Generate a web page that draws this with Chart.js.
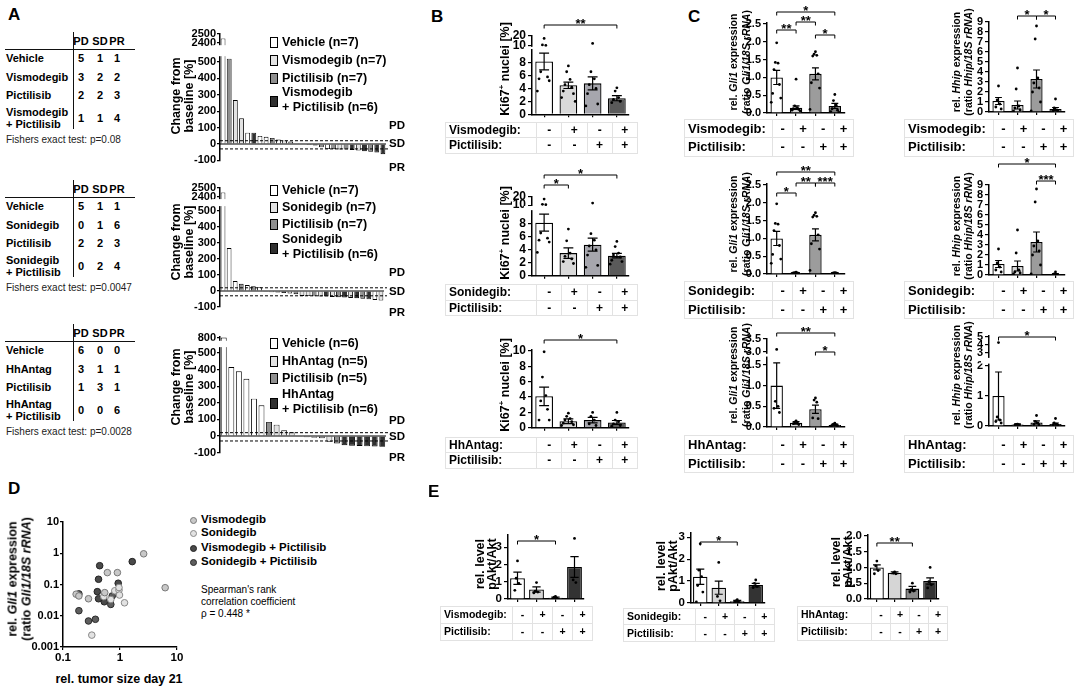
<!DOCTYPE html>
<html>
<head>
<meta charset="utf-8">
<script src="https://cdn.jsdelivr.net/npm/chart.js@4.4.0/dist/chart.umd.min.js"></script>
<style>
html, body { margin: 0; padding: 0; background: #fff; }
#fig { position: relative; width: 1091px; height: 688px; overflow: hidden; font-family: "Liberation Sans", Arial, sans-serif; color: #000; }
#fig canvas { position: absolute; }
.t { position: absolute; white-space: nowrap; line-height: 1; }
.t sup { font-size: 0.65em; line-height: 0; }
.ln { position: absolute; background: #111; }
.sw { position: absolute; border: 1px solid #000; box-sizing: border-box; }
table.pm { position: absolute; border-collapse: collapse; font-weight: bold; table-layout: fixed; }
table.pm td { border: 1px solid #e2e2e2; padding: 0; text-align: center; line-height: 1; }
table.pm td.lab { text-align: left; padding-left: 3px; }
</style>
</head>
<body>
<div id="fig"></div>
<script>
// -----------------------------
// Data
// -----------------------------
// A: response tables
const respRows1 = ["Vehicle", "Vismodegib", "Pictilisib", "Vismodegib<br>+ Pictilisib"];
const respCounts1 = [[5, 1, 1], [3, 2, 2], [2, 2, 3], [1, 1, 4]];
const respRows2 = ["Vehicle", "Sonidegib", "Pictilisib", "Sonidegib<br>+ Pictilisib"];
const respCounts2 = [[5, 1, 1], [0, 1, 6], [2, 2, 3], [0, 2, 4]];
const respRows3 = ["Vehicle", "HhAntag", "Pictilisib", "HhAntag<br>+ Pictilisib"];
const respCounts3 = [[6, 0, 0], [3, 1, 1], [1, 3, 1], [0, 0, 6]];
const fisherP = ["p=0.08", "p=0.0047", "p=0.0028"];

// A: waterfall plots (change from baseline [%], group index per bar)
const wfLegend1 = ["Vehicle (n=7)", "Vismodegib (n=7)", "Pictilisib (n=7)", "Vismodegib<br>+ Pictilisib (n=6)"];
const wfLegend2 = ["Vehicle (n=7)", "Sonidegib (n=7)", "Pictilisib (n=7)", "Sonidegib<br>+ Pictilisib (n=6)"];
const wfLegend3 = ["Vehicle (n=6)", "HhAntag (n=5)", "Pictilisib (n=5)", "HhAntag<br>+ Pictilisib (n=6)"];
const wf1Change = [2450, 520, 268, 157, 69, 69, 49, 44, 37, 27, 22, 15, 4, -3, -6, -9, -20, -31, -32, -33, -34, -36, -40, -44, -48, -52, -62];
const wf1Group  = [0, 2, 1, 1, 0, 3, 0, 0, 2, 0, 1, 1, 0, 2, 1, 3, 2, 0, 2, 1, 2, 3, 1, 3, 2, 3, 3];
const wf2Change = [2450, 268, 62, 45, 37, 30, 24, -4, -8, -10, -12, -15, -20, -31, -32, -33, -34, -35, -37, -39, -41, -43, -45, -48, -52, -56, -60];
const wf2Group  = [0, 0, 0, 2, 0, 2, 0, 3, 1, 2, 3, 0, 2, 1, 1, 2, 1, 3, 1, 2, 3, 1, 3, 2, 3, 0, 1];
const wf3Change = [805, 415, 390, 345, 225, 185, 85, 68, 35, 22, -5, -8, -11, -14, -35, -45, -55, -58, -60, -62, -63, -65];
const wf3Group  = [0, 0, 0, 0, 0, 0, 2, 1, 1, 1, 2, 2, 1, 2, 1, 2, 3, 3, 3, 3, 3, 3];
const wfTicks12 = [-100, 0, 100, 200, 300, 400, 500, 2400, 2500];
const wfTicks3 = [-100, 0, 100, 200, 300, 400, 500, 800];

// B: Ki67+ nuclei [%]
const ki67TicksBroken = [0, 2, 4, 6, 8, 10, 20];
const ki67Ticks = [0, 2, 4, 6, 8, 10];
const ki67VisMean = [8.2, 4.5, 4.8, 2.5];
const ki67VisSem = [1.3, 0.5, 1.0, 0.4];
const ki67VisPts = [[17.5, 11, 10.5, 6.6, 5.8, 5.5, 5.2, 3.6], [7.5, 6.6, 5.4, 4.6, 4.2, 3.6, 3.2, 2.6, 2.0], [12.5, 6.6, 5.5, 4.6, 4.0, 3.2, 1.6, 1.3], [4.1, 3.6, 2.6, 2.3, 2.0, 1.8]];
const ki67SonMean = [8.2, 3.5, 4.8, 3.1];
const ki67SonSem = [1.3, 0.8, 1.0, 0.35];
const ki67SonPts = [[17.5, 11, 10.5, 6.6, 5.8, 5.5, 5.2, 3.6], [7.2, 5.4, 3.5, 3.0, 2.6, 2.2, 1.9], [12.5, 6.5, 5.5, 4.6, 4.0, 3.2, 1.6, 1.3], [5.3, 4.5, 3.5, 3.2, 2.9, 2.4, 2.2, 1.8]];
const ki67HhMean = [4.1, 0.85, 1.0, 0.7];
const ki67HhSem = [1.2, 0.3, 0.35, 0.25];
const ki67HhPts = [[9.9, 6.6, 4.2, 3.5, 2.4, 1.0, 1.0], [1.9, 1.5, 1.2, 1.0, 0.8, 0.6, 0.4, 0.3], [2.0, 1.5, 1.0, 0.5, 0.3], [2.0, 1.0, 0.8, 0.5, 0.3, 0.2]];

// C: Gli1 and Hhip expression
const gliTicks = [0, 0.5, 1, 1.5, 2, 2.5];
const gliTicksBroken = [0, 0.5, 1, 1.5, 3, 3.5];
const hhipTicks = [0, 1, 2, 3, 4, 5, 6, 7, 8, 9];
const hhipTicksBroken = [0, 1, 2, 3, 4, 5];
const gliVisMean = [1.0, 0.15, 1.1, 0.2];
const gliVisSem = [0.2, 0.05, 0.17, 0.07];
const gliVisPts = [[1.97, 1.42, 1.4, 1.22, 0.8, 0.55, 0.42, 0.3], [0.95, 0.2, 0.15, 0.12, 0.1, 0.08, 0.06], [1.72, 1.65, 1.62, 1.6, 1.1, 0.85, 0.7, 0.1], [0.52, 0.35, 0.22, 0.12, 0.08, 0.04, 0.02]];
const hhipVisMean = [1.1, 0.7, 3.3, 0.3];
const hhipVisSem = [0.35, 0.4, 0.9, 0.15];
const hhipVisPts = [[2.6, 1.2, 0.8, 0.5, 0.3], [4.4, 2.3, 0.6, 0.4, 0.2, 0.1], [8.6, 7.3, 3.4, 2.9, 2.4, 2.0, 1.0, 0.1], [1.3, 0.4, 0.2, 0.1, 0.05]];
const gliSonMean = [1.0, 0.03, 1.1, 0.03];
const gliSonSem = [0.2, 0.01, 0.17, 0.01];
const gliSonPts = [[1.97, 1.42, 1.4, 1.22, 0.8, 0.55, 0.42, 0.3], [0.05, 0.04, 0.03, 0.03, 0.02, 0.02], [1.72, 1.65, 1.62, 1.6, 1.1, 0.85, 0.7, 0.1], [0.04, 0.03, 0.03, 0.02, 0.02]];
const hhipSonMean = [1.1, 0.9, 3.3, 0.1];
const hhipSonSem = [0.35, 0.5, 1.0, 0.04];
const hhipSonPts = [[2.6, 1.2, 0.8, 0.5, 0.3], [4.5, 2.2, 0.5, 0.3, 0.2, 0.1], [8.6, 7.3, 3.4, 2.9, 2.4, 2.0, 1.0, 0.1], [0.3, 0.1, 0.05, 0.02]];
const gliHhMean = [1.0, 0.1, 0.43, 0.05];
const gliHhSem = [0.55, 0.03, 0.1, 0.02];
const gliHhPts = [[3.1, 0.62, 0.5, 0.45, 0.35], [0.15, 0.12, 0.1, 0.08, 0.06], [0.7, 0.65, 0.6, 0.22, 0.2], [0.09, 0.07, 0.05, 0.04, 0.03, 0.02]];
const hhipHhMean = [1.0, 0.05, 0.12, 0.07];
const hhipHhSem = [0.8, 0.02, 0.05, 0.03];
const hhipHhPts = [[4.3, 0.3, 0.2, 0.15, 0.1], [0.06, 0.05, 0.04, 0.03], [0.35, 0.15, 0.1, 0.05, 0.03], [0.25, 0.1, 0.06, 0.04, 0.03]];

// D: rel. tumor size day 21 (x) vs rel. Gli1 expression (y)
const dVisX = [2.6, 6.2, 0.6, 0.9, 0.17, 0.19, 0.28, 0.54];
const dVisY = [0.96, 0.079, 0.24, 0.24, 0.049, 0.043, 0.035, 0.055];
const dSonX = [0.52, 0.81, 0.96, 0.98, 1.2, 0.69, 0.32, 0.96];
const dSonY = [0.041, 0.063, 0.066, 0.046, 0.026, 0.033, 0.0024, 0.08];
const dVisPicX = [1.64, 0.44, 0.42, 0.93, 0.40, 0.42, 0.53];
const dVisPicY = [0.54, 0.40, 0.147, 0.11, 0.059, 0.035, 0.028];
const dSonPicX = [0.69, 0.73, 0.19, 0.28, 0.37, 0.19];
const dSonPicY = [0.023, 0.043, 0.0145, 0.0068, 0.0077, 0.05];
const dLegend = ["Vismodegib", "Sonidegib", "Vismodegib + Pictilisib", "Sonidegib + Pictilisib"];
const dTicksX = [0.1, 1, 10];
const dTicksY = [0.001, 0.01, 0.1, 1, 10];

// E: rel. level pAkt/Akt
const aktTicks = [0, 1, 2, 3];
const aktTicksHh = [0, 0.5, 1, 1.5, 2];
const aktVisMean = [1.2, 0.55, 0.07, 1.85];
const aktVisSem = [0.35, 0.15, 0.04, 0.6];
const aktVisPts = [[2.2, 1.2, 0.9, 0.5], [0.95, 0.45, 0.4, 0.35], [0.15, 0.1, 0.05, 0.02], [3.5, 1.1, 0.95]];
const aktSonMean = [1.2, 0.7, 0.08, 0.82];
const aktSonSem = [0.35, 0.3, 0.04, 0.08];
const aktSonPts = [[2.7, 1.5, 1.2, 0.8, 0.5, 0.05], [1.85, 0.3, 0.1], [0.15, 0.1, 0.05, 0.03], [1.05, 0.9, 0.75, 0.7]];
const aktHhMean = [1.0, 0.83, 0.33, 0.57];
const aktHhSem = [0.08, 0.03, 0.07, 0.1];
const aktHhPts = [[1.2, 1.05, 0.9, 0.8], [0.86, 0.82, 0.8], [0.5, 0.3, 0.25, 0.22], [1.0, 0.55, 0.45, 0.35]];

const drugSigns = ["-", "+", "-", "+"];
const pictSigns = ["-", "-", "+", "+"];

// -----------------------------
// Styles
// -----------------------------
const FONT = '"Liberation Sans", Arial, sans-serif';
const wfColors = ["#ffffff", "#e3e3e3", "#8f8f8f", "#303030"];
const colorsB = ["#ffffff", "#d9d9d9", "#a6a6ad", "#5a5a5a"];
const colorsC = ["#ffffff", "#d9d9d9", "#9c9c9c", "#7c7c7c"];
const colorsE = ["#ffffff", "#d6d6d6", "#8a8a8a", "#333333"];

Chart.defaults.font.family = FONT;
Chart.defaults.color = "#000";
Chart.defaults.animation = false;
Chart.defaults.plugins.legend.display = false;
Chart.defaults.plugins.tooltip.enabled = false;

const fig = document.getElementById("fig");

// -----------------------------
// Helpers
// -----------------------------
function txt(html, x, y, o = {}) {
    const d = document.createElement("div");
    d.className = "t";
    d.innerHTML = html;
    d.style.fontSize = (o.size || 12) + "px";
    d.style.fontWeight = o.normal ? "normal" : "bold";
    if (o.lh) d.style.lineHeight = o.lh + "px";
    if (o.color) d.style.color = o.color;
    const a = o.align || "l";
    if (a === "c") d.style.textAlign = "center";
    d.style.left = x + "px";
    d.style.top = y + "px";
    const tx = a === "c" ? "-50%" : a === "r" ? "-100%" : "0";
    d.style.transform = `translate(${tx},-50%)` + (o.rot ? " rotate(-90deg)" : "");
    fig.appendChild(d);
    return d;
}

function line(x, y, w, h) {
    const d = document.createElement("div");
    d.className = "ln";
    Object.assign(d.style, { left: x + "px", top: y + "px", width: w + "px", height: h + "px" });
    fig.appendChild(d);
}

function swatch(x, yc, col, round) {
    const d = document.createElement("div");
    d.className = "sw";
    const w = round ? 7 : 8, h = round ? 7 : 11;
    Object.assign(d.style, { left: x + "px", top: (yc - h / 2) + "px", width: w + "px", height: h + "px", background: col });
    if (round) { d.style.borderRadius = "50%"; d.style.borderColor = round; }
    fig.appendChild(d);
}

function signTable(x, y, labelW, colW, rowH, size, rows) {
    const t = document.createElement("table");
    t.className = "pm";
    t.style.left = x + "px";
    t.style.top = y + "px";
    t.style.fontSize = size + "px";
    t.style.width = (labelW + 4 * colW) + "px";
    rows.forEach(([lab, signs]) => {
        const tr = t.insertRow();
        const c = tr.insertCell();
        c.className = "lab";
        c.textContent = lab;
        c.style.width = labelW + "px";
        c.style.height = (rowH - 1) + "px";
        signs.forEach(s => {
            const td = tr.insertCell();
            td.textContent = s;
            td.style.width = colW + "px";
        });
    });
    fig.appendChild(t);
}

function makeCanvas(left, top, w, h) {
    const cv = document.createElement("canvas");
    cv.width = w; cv.height = h;
    cv.style.left = left + "px"; cv.style.top = top + "px";
    cv.style.width = w + "px"; cv.style.height = h + "px";
    fig.appendChild(cv);
    return cv;
}

// broken axis: values above brk.high are compressed into a short upper segment
function mapper(brk) {
    if (!brk) return v => v;
    return v => v <= brk.low ? v : (v < brk.high ? brk.low : brk.base + (v - brk.high) * brk.k);
}

function breakBand(brk) {
    return {
        id: "breakBand",
        afterDraw(ch) {
            if (!brk) return;
            const y = ch.scales.y, a = ch.chartArea, ctx = ch.ctx;
            const yl = y.getPixelForValue(brk.low), yu = y.getPixelForValue(brk.gapTop ?? brk.base);
            if (yl - yu < 2) return;
            ctx.save();
            ctx.fillStyle = "#fff";
            ctx.fillRect(a.left - 8, yu + 0.9, a.right - a.left + 8, yl - yu - 1.8);
            ctx.restore();
        }
    };
}

const jit = k => (k % 2 ? -1 : 1) * Math.ceil(k / 2) * 0.07;

// -----------------------------
// Bar + dots + SEM panel
// -----------------------------
function barPanel(c) {
    const toV = mapper(c.brk);
    const axisW = 30, botH = 8;
    const h = (c.vmax - c.vmin) * c.k, top = c.y0 - h;
    const bTop = c.brackets && c.brackets.length ? Math.min(...c.brackets.map(b => b.y)) - 15 : top - 8;
    const cTop = Math.floor(Math.max(0, Math.min(top - 8, bTop)));
    const cLeft = Math.floor(c.x - axisW);
    const W = Math.ceil(c.x + c.w + 5) - cLeft, H = Math.ceil(c.y0 + botH + 1) - cTop;
    const pad = { left: c.x - axisW - cLeft, top: top - cTop, right: W - (c.x + c.w - cLeft), bottom: H - (c.y0 - cTop) - botH };
    const cv = makeCanvas(cLeft, cTop, W, H);
    const labels = c.ticks.map(v => c.dec ? v.toFixed(c.dec) : String(v));

    const pts = [];
    c.pts.forEach((arr, g) => arr.forEach((v, k) => pts.push({ x: g + jit(k), y: toV(v) })));

    new Chart(cv, {
        type: "bar",
        data: {
            datasets: [
                { type: "scatter", data: pts, pointRadius: 1.4, pointBackgroundColor: "#000", pointBorderWidth: 0, order: 0 },
                { type: "bar", data: c.means.map((m, i) => ({ x: i, y: toV(m) })), backgroundColor: c.colors, borderColor: "#000", borderWidth: 1.3, barPercentage: c.barPct, categoryPercentage: 1, order: 1 }
            ]
        },
        options: {
            responsive: false,
            animation: false,
            layout: { padding: pad },
            scales: {
                x: {
                    type: "linear", min: -0.5, max: 3.5, offset: false,
                    afterBuildTicks: s => { s.ticks = [0, 1, 2, 3].map(v => ({ value: v })); },
                    afterFit: s => { s.height = botH; },
                    ticks: { display: false },
                    grid: { display: true, offset: false, drawOnChartArea: false, drawTicks: true, tickLength: 3, color: "#000", lineWidth: 1.2 },
                    border: { display: true, color: "#000", width: 1.5 }
                },
                y: {
                    type: "linear", min: c.vmin, max: c.vmax,
                    afterBuildTicks: s => { s.ticks = c.ticks.map(v => ({ value: toV(v) })); },
                    afterFit: s => { s.width = axisW; },
                    ticks: { autoSkip: false, padding: 2, color: "#000", font: { size: c.tickSize || 11, weight: "bold" }, callback: (v, i) => labels[i] },
                    grid: { drawOnChartArea: false, tickLength: 4, color: "#000", lineWidth: 1.2 },
                    border: { color: "#000", width: 1.5 }
                }
            }
        },
        plugins: [
            {
                id: "sem",
                afterDatasetsDraw(ch) {
                    const { ctx } = ch, x = ch.scales.x, y = ch.scales.y;
                    const cap = (x.getPixelForValue(1) - x.getPixelForValue(0)) * c.barPct * 0.28;
                    ctx.save();
                    ctx.strokeStyle = "#000";
                    ctx.lineWidth = 1.2;
                    c.means.forEach((m, i) => {
                        const px = x.getPixelForValue(i);
                        const yh = y.getPixelForValue(toV(m + c.sem[i]));
                        const yl = y.getPixelForValue(toV(Math.max(m - c.sem[i], 0)));
                        ctx.beginPath();
                        ctx.moveTo(px, yl); ctx.lineTo(px, yh);
                        ctx.moveTo(px - cap, yh); ctx.lineTo(px + cap, yh);
                        ctx.moveTo(px - cap, yl); ctx.lineTo(px + cap, yl);
                        ctx.stroke();
                    });
                    ctx.restore();
                }
            },
            breakBand(c.brk),
            {
                id: "brackets",
                afterDraw(ch) {
                    if (!c.brackets) return;
                    const { ctx } = ch, x = ch.scales.x;
                    ctx.save();
                    ctx.strokeStyle = "#000";
                    ctx.lineWidth = 1;
                    ctx.fillStyle = "#000";
                    ctx.font = "bold 13px " + FONT;
                    ctx.textAlign = "center";
                    ctx.textBaseline = "alphabetic";
                    c.brackets.forEach(b => {
                        const yy = b.y - cTop, xa = x.getPixelForValue(b.a), xb = x.getPixelForValue(b.b);
                        ctx.beginPath();
                        ctx.moveTo(xa, yy + 3.5); ctx.lineTo(xa, yy); ctx.lineTo(xb, yy); ctx.lineTo(xb, yy + 3.5);
                        ctx.stroke();
                        ctx.fillText(b.t, (xa + xb) / 2, yy + 3);
                    });
                    ctx.restore();
                }
            }
        ]
    });
}

// -----------------------------
// Waterfall panel
// -----------------------------
function waterfall(c) {
    const toV = mapper(c.brk);
    const axisW = 32;
    const h = (c.vmax - c.vmin) * c.k, top = c.y0 - h;
    const cTop = Math.floor(top - 8), cLeft = Math.floor(c.x - axisW);
    const W = Math.ceil(c.x + c.w + 4) - cLeft, H = Math.ceil(c.y0 + 9) - cTop;
    const pad = { left: c.x - axisW - cLeft, top: top - cTop, right: W - (c.x + c.w - cLeft), bottom: H - (c.y0 - cTop) };
    const cv = makeCanvas(cLeft, cTop, W, H);
    const n = c.values.length;

    new Chart(cv, {
        type: "bar",
        data: {
            datasets: [{
                data: c.values.map((v, i) => ({ x: i, y: toV(v) })),
                backgroundColor: c.groups.map(g => wfColors[g]),
                borderColor: "#000", borderWidth: 0.9,
                barPercentage: 0.78, categoryPercentage: 1
            }]
        },
        options: {
            responsive: false,
            animation: false,
            layout: { padding: pad },
            scales: {
                x: { type: "linear", display: false, min: -0.5, max: n - 0.5, offset: false },
                y: {
                    type: "linear", min: c.vmin, max: c.vmax,
                    afterBuildTicks: s => { s.ticks = c.ticks.map(v => ({ value: toV(v) })); },
                    afterFit: s => { s.width = axisW; },
                    ticks: { autoSkip: false, padding: 1, color: "#000", font: { size: 11, weight: "bold" }, callback: (v, i) => String(c.ticks[i]) },
                    grid: { drawOnChartArea: false, tickLength: 3, color: "#000", lineWidth: 1.2 },
                    border: { color: "#000", width: 1.5 }
                }
            }
        },
        plugins: [
            {
                id: "refLines",
                afterDatasetsDraw(ch) {
                    const { ctx } = ch, y = ch.scales.y, a = ch.chartArea;
                    ctx.save();
                    ctx.strokeStyle = "#000";
                    ctx.lineWidth = 1.2;
                    ctx.beginPath();
                    ctx.moveTo(a.left, y.getPixelForValue(0)); ctx.lineTo(a.right, y.getPixelForValue(0));
                    ctx.stroke();
                    ctx.lineWidth = 1;
                    ctx.setLineDash([3, 2]);
                    [20, -30].forEach(v => {
                        ctx.beginPath();
                        ctx.moveTo(a.left, y.getPixelForValue(v)); ctx.lineTo(a.right + 3, y.getPixelForValue(v));
                        ctx.stroke();
                    });
                    ctx.restore();
                }
            },
            breakBand(c.brk)
        ]
    });
}

// -----------------------------
// Scatter panel D (log-log)
// -----------------------------
function scatterD() {
    const axisW = 35, x0 = 63, w = 114, top = 522, h = 125, botH = 18;
    const cLeft = x0 - axisW, cTop = top - 8;
    const W = axisW + w + 10, H = 8 + h + botH + 2;
    const cv = makeCanvas(cLeft, cTop, W, H);
    const xy = (xs, ys) => xs.map((v, i) => ({ x: v, y: ys[i] }));
    const set = (xs, ys, fill, edge) => ({ data: xy(xs, ys), pointRadius: 3.3, pointBackgroundColor: fill, pointBorderColor: edge, pointBorderWidth: 1 });
    const yLabels = ["0.001", "0.01", "0.1", "1", "10"];
    const xLabels = ["0.1", "1", "10"];
    new Chart(cv, {
        type: "scatter",
        data: {
            datasets: [
                set(dVisX, dVisY, "#c8c8c8", "#777"),
                set(dSonX, dSonY, "#e2e2e2", "#888"),
                set(dVisPicX, dVisPicY, "#4a4a4a", "#222"),
                set(dSonPicX, dSonPicY, "#5e5e5e", "#2a2a2a")
            ]
        },
        options: {
            responsive: false,
            animation: false,
            layout: { padding: { left: 0, top: 8, right: 10, bottom: 2 } },
            scales: {
                x: {
                    type: "logarithmic", min: 0.1, max: 10,
                    afterBuildTicks: s => { s.ticks = dTicksX.map(v => ({ value: v })); },
                    afterFit: s => { s.height = botH; },
                    ticks: { autoSkip: false, padding: 1, maxRotation: 0, color: "#000", font: { size: 11.5, weight: "bold" }, callback: (v, i) => xLabels[i] },
                    grid: { drawOnChartArea: false, tickLength: 3, color: "#000", lineWidth: 1.2 },
                    border: { color: "#000", width: 1.5 }
                },
                y: {
                    type: "logarithmic", min: 0.001, max: 10,
                    afterBuildTicks: s => { s.ticks = dTicksY.map(v => ({ value: v })); },
                    afterFit: s => { s.width = axisW; },
                    ticks: { autoSkip: false, padding: 1, color: "#000", font: { size: 11, weight: "bold" }, callback: (v, i) => yLabels[i] },
                    grid: { drawOnChartArea: false, tickLength: 3, color: "#000", lineWidth: 1.2 },
                    border: { color: "#000", width: 1.5 }
                }
            }
        }
    });
}

// -----------------------------
// Panel A
// -----------------------------
function respTable(top, names, counts, p) {
    const cols = [81, 100, 117];
    ["PD", "SD", "PR"].forEach((s, i) => txt(s, cols[i], top, { align: "c", size: 11 }));
    line(5, top + 8, 130, 1);
    line(73, top - 9, 1, 97);
    const rowY = [top + 17, top + 36, top + 54, top + 77];
    names.forEach((nm, r) => {
        txt(nm, 6, rowY[r], { size: 11, lh: 12 });
        counts[r].forEach((v, i) => txt(String(v), cols[i], rowY[r], { align: "c", size: 11 }));
    });
    txt("Fishers exact test: " + p, 6, top + 99, { normal: true, size: 10, color: "#222" });
}

function wfLegend(names, ys) {
    for (let i = 0; i < 3; i++) {
        swatch(270, ys[i], wfColors[i]);
        txt(names[i], 282, ys[i], { size: 12.5 });
    }
    swatch(270, ys[3] + 1, wfColors[3]);
    txt(names[3], 282, ys[3], { size: 12.5, lh: 15 });
}

txt("A", 8, 14, { size: 17 });
respTable(41, respRows1, respCounts1, fisherP[0]);
respTable(189, respRows2, respCounts2, fisherP[1]);
respTable(333, respRows3, respCounts3, fisherP[2]);

waterfall({ x: 220, w: 166, y0: 160.4, k: 0.164, vmin: -100, vmax: 674, brk: { low: 530, high: 2400, base: 616, k: 0.55, gapTop: 608 }, ticks: wfTicks12, values: wf1Change, groups: wf1Group });
waterfall({ x: 220, w: 164, y0: 307, k: 0.16, vmin: -100, vmax: 647, brk: { low: 525, high: 2400, base: 588, k: 0.5625, gapTop: 580 }, ticks: wfTicks12, values: wf2Change, groups: wf2Group });
waterfall({ x: 220, w: 166, y0: 452.6, k: 0.166, vmin: -100, vmax: 596, brk: { low: 530, high: 800, base: 590, k: 0.55, gapTop: 579 }, ticks: wfTicks3, values: wf3Change, groups: wf3Group });

[96, 242, 387].forEach(y => txt("Change from<br>baseline [%]", 182.5, y, { align: "c", rot: true, size: 12.5, lh: 13 }));
wfLegend(wfLegend1, [42, 60, 78, 100]);
wfLegend(wfLegend2, [190, 207, 224, 247]);
wfLegend(wfLegend3, [343, 361, 378, 402]);
[[126, 144, 168], [273, 292, 313], [421, 437, 458]].forEach(ys => {
    ["PD", "SD", "PR"].forEach((s, i) => txt(s, 389, ys[i], { size: 11.5 }));
});

// -----------------------------
// Panel B
// -----------------------------
txt("B", 431, 16, { size: 17 });
barPanel({ x: 532, w: 97, y0: 114.3, k: 6.45, vmin: 0, vmax: 12.2, brk: { low: 9.99, high: 10, base: 10.6, k: 0.155 }, ticks: ki67TicksBroken, tickSize: 12, means: ki67VisMean, sem: ki67VisSem, pts: ki67VisPts, colors: colorsB, barPct: 0.73, brackets: [{ a: 0, b: 3, y: 25, t: "**" }] });
barPanel({ x: 532, w: 97, y0: 276, k: 6.5, vmin: 0, vmax: 12.2, brk: { low: 9.99, high: 10, base: 10.9, k: 0.125 }, ticks: ki67TicksBroken, tickSize: 12, means: ki67SonMean, sem: ki67SonSem, pts: ki67SonPts, colors: colorsB, barPct: 0.73, brackets: [{ a: 0, b: 3, y: 175, t: "*" }, { a: 0, b: 1, y: 185, t: "*" }] });
barPanel({ x: 532, w: 97, y0: 428, k: 7.7, vmin: 0, vmax: 10.1, ticks: ki67Ticks, tickSize: 12, means: ki67HhMean, sem: ki67HhSem, pts: ki67HhPts, colors: colorsB, barPct: 0.73, brackets: [{ a: 0, b: 3, y: 340, t: "*" }] });
[69, 233, 385].forEach(y => txt("Ki67<sup>+</sup> nuclei [%]", 505, y, { align: "c", rot: true, size: 12.5 }));
signTable(445, 121.5, 87, 24.25, 15.5, 12, [["Vismodegib:", drugSigns], ["Pictilisib:", pictSigns]]);
signTable(445, 284, 87, 24.25, 15.5, 12, [["Sonidegib:", drugSigns], ["Pictilisib:", pictSigns]]);
signTable(445, 436.5, 87, 24.25, 15.5, 12, [["HhAntag:", drugSigns], ["Pictilisib:", pictSigns]]);

// -----------------------------
// Panel C
// -----------------------------
txt("C", 688, 16, { size: 17 });
const gliTitle = "rel. <i>Gli1</i> expression<br>(ratio <i>Gli1/18S rRNA</i>)";
const hhipTitle = "rel. <i>Hhip</i> expression<br>(ratio <i>Hhip/18S rRNA</i>)";
barPanel({ x: 767, w: 77.5, y0: 113, k: 35.6, vmin: 0, vmax: 2.53, ticks: gliTicks, dec: 1, means: gliVisMean, sem: gliVisSem, pts: gliVisPts, colors: colorsC, barPct: 0.64,
    brackets: [{ a: 0, b: 3, y: 12, t: "*" }, { a: 0, b: 1, y: 30, t: "**" }, { a: 1, b: 2, y: 22, t: "**" }, { a: 2, b: 3, y: 35, t: "*" }] });
barPanel({ x: 989, w: 76, y0: 112, k: 10, vmin: 0, vmax: 9.05, ticks: hhipTicks, means: hhipVisMean, sem: hhipVisSem, pts: hhipVisPts, colors: colorsC, barPct: 0.64,
    brackets: [{ a: 1, b: 2, y: 16, t: "*" }, { a: 2, b: 3, y: 16, t: "*" }] });
barPanel({ x: 767, w: 77.5, y0: 274, k: 35.6, vmin: 0, vmax: 2.53, ticks: gliTicks, dec: 1, means: gliSonMean, sem: gliSonSem, pts: gliSonPts, colors: colorsC, barPct: 0.64,
    brackets: [{ a: 0, b: 3, y: 172, t: "**" }, { a: 0, b: 1, y: 193, t: "*" }, { a: 1, b: 2, y: 183, t: "**" }, { a: 2, b: 3, y: 183, t: "***" }] });
barPanel({ x: 989, w: 76, y0: 275, k: 10, vmin: 0, vmax: 9.05, ticks: hhipTicks, means: hhipSonMean, sem: hhipSonSem, pts: hhipSonPts, colors: colorsC, barPct: 0.64,
    brackets: [{ a: 0, b: 3, y: 164, t: "*" }, { a: 2, b: 3, y: 181, t: "***" }] });
barPanel({ x: 767, w: 77.5, y0: 427, k: 41.4, vmin: 0, vmax: 2.14, brk: { low: 1.68, high: 3.0, base: 1.81, k: 0.63, gapTop: 1.79 }, ticks: gliTicksBroken, dec: 1, means: gliHhMean, sem: gliHhSem, pts: gliHhPts, colors: colorsC, barPct: 0.64,
    brackets: [{ a: 0, b: 3, y: 333, t: "**" }, { a: 2, b: 3, y: 352, t: "*" }] });
barPanel({ x: 989, w: 76, y0: 426, k: 30, vmin: 0, vmax: 3.0, brk: { low: 2.05, high: 3, base: 2.43, k: 0.27, gapTop: 2.3 }, ticks: hhipTicksBroken, means: hhipHhMean, sem: hhipHhSem, pts: hhipHhPts, colors: colorsC, barPct: 0.64,
    brackets: [{ a: 0, b: 3, y: 337, t: "*" }] });
[62, 224, 375].forEach(y => txt(gliTitle, 740, y, { align: "c", rot: true, size: 10.5, lh: 13 }));
[62, 226, 375].forEach(y => txt(hhipTitle, 961.5, y, { align: "c", rot: true, size: 10.5, lh: 12 }));
[["Vismodegib:", 118.5], ["Sonidegib:", 281], ["HhAntag:", 435]].forEach(([lab, y]) => {
    signTable(684, y, 84, 19.3, 18.5, 13, [[lab, drugSigns], ["Pictilisib:", pictSigns]]);
    signTable(904, y, 85, 19, 18.5, 13, [[lab, drugSigns], ["Pictilisib:", pictSigns]]);
});

// -----------------------------
// Panel D
// -----------------------------
txt("D", 8, 488, { size: 17 });
scatterD();
txt(gliTitle, 20, 579, { align: "c", rot: true, size: 12.5, lh: 13.5 });
txt("rel. tumor size day 21", 119, 679, { align: "c", size: 12.5 });
const dCols = [["#c8c8c8", "#777"], ["#e2e2e2", "#888"], ["#4a4a4a", "#222"], ["#5e5e5e", "#2a2a2a"]];
[520, 533, 548, 562].forEach((y, i) => {
    swatch(190, y, dCols[i][0], dCols[i][1]);
    txt(dLegend[i], 201, y, { size: 11.5 });
});
txt("Spearman's rank", 201, 590, { normal: true, size: 10 });
txt("correlation coefficient", 201, 602, { normal: true, size: 10 });
txt("\u03c1 = 0.448 *", 201, 614, { normal: true, size: 10 });

// -----------------------------
// Panel E
// -----------------------------
txt("E", 428, 491, { size: 17 });
barPanel({ x: 508, w: 76, y0: 599, k: 17.3, vmin: 0, vmax: 3.7, ticks: aktTicks, tickSize: 11.5, means: aktVisMean, sem: aktVisSem, pts: aktVisPts, colors: colorsE, barPct: 0.78, brackets: [{ a: 0, b: 2, y: 541, t: "*" }] });
barPanel({ x: 691, w: 74, y0: 603, k: 22, vmin: 0, vmax: 3.2, ticks: aktTicks, tickSize: 11.5, means: aktSonMean, sem: aktSonSem, pts: aktSonPts, colors: colorsE, barPct: 0.78, brackets: [{ a: 0, b: 2, y: 542, t: "*" }] });
barPanel({ x: 868, w: 71, y0: 599, k: 32, vmin: 0, vmax: 2.03, ticks: aktTicksHh, dec: 1, tickSize: 11.5, means: aktHhMean, sem: aktHhSem, pts: aktHhPts, colors: colorsE, barPct: 0.78, brackets: [{ a: 0, b: 2, y: 543, t: "**" }] });
[[485.5, 564], [667, 566], [841.5, 562]].forEach(([x, y]) => txt("rel. level<br>pAkt/Akt", x, y, { align: "c", rot: true, size: 12.5, lh: 11.5 }));
signTable(440, 605.5, 68, 19, 17, 10.5, [["Vismodegib:", drugSigns], ["Pictilisib:", pictSigns]]);
signTable(623, 607.5, 68, 18.7, 16.5, 10.5, [["Sonidegib:", drugSigns], ["Pictilisib:", pictSigns]]);
signTable(797, 605.5, 70, 18, 17, 10.5, [["HhAntag:", drugSigns], ["Pictilisib:", pictSigns]]);
</script>
</body>
</html>
